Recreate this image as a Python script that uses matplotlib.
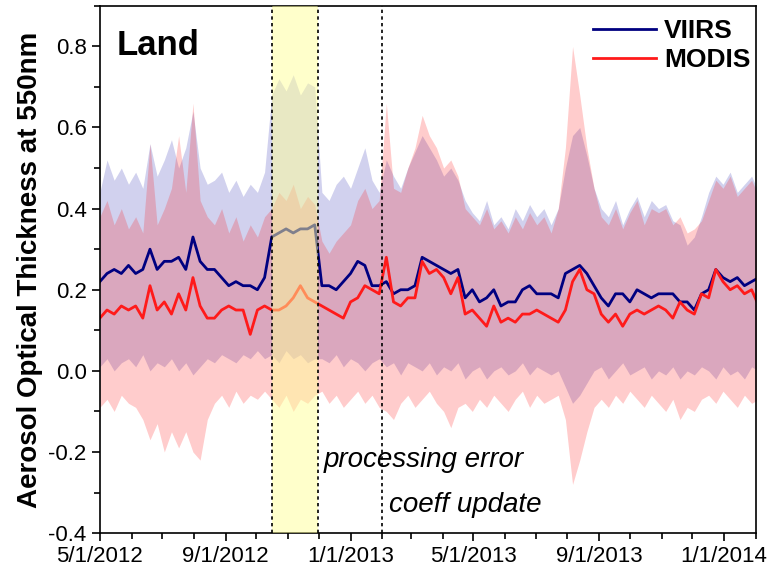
import matplotlib
matplotlib.use("Agg")
import matplotlib.pyplot as plt
import matplotlib.dates as mdates
from matplotlib.ticker import MultipleLocator, FuncFormatter
import pandas as pd

plt.rcParams['font.family'] = ['Liberation Sans', 'DejaVu Sans']

# weekly samples starting 2012-05-01
start_date = "2012-05-01"

viirs_mean = [0.22, 0.24, 0.25, 0.24, 0.26, 0.24, 0.25, 0.30, 0.25, 0.27,
              0.27, 0.28, 0.25, 0.33, 0.27, 0.25, 0.25, 0.23, 0.21, 0.22,
              0.21, 0.21, 0.20, 0.23, 0.33, 0.34, 0.35, 0.34, 0.35, 0.35,
              0.36, 0.21, 0.21, 0.20, 0.22, 0.24, 0.27, 0.26, 0.21, 0.21,
              0.22, 0.19, 0.20, 0.20, 0.21, 0.28, 0.27, 0.26, 0.25, 0.24,
              0.25, 0.18, 0.20, 0.17, 0.18, 0.20, 0.16, 0.17, 0.17, 0.20,
              0.21, 0.19, 0.19, 0.19, 0.18, 0.24, 0.25, 0.26, 0.24, 0.21,
              0.18, 0.16, 0.19, 0.19, 0.17, 0.20, 0.19, 0.18, 0.19, 0.19,
              0.19, 0.17, 0.17, 0.15, 0.19, 0.20, 0.25, 0.23, 0.22, 0.23,
              0.21, 0.22, 0.23]

modis_mean = [0.13, 0.15, 0.14, 0.16, 0.15, 0.16, 0.13, 0.21, 0.15, 0.17,
              0.14, 0.19, 0.15, 0.23, 0.16, 0.13, 0.13, 0.15, 0.16, 0.15,
              0.15, 0.09, 0.15, 0.16, 0.15, 0.15, 0.16, 0.18, 0.21, 0.18,
              0.17, 0.16, 0.15, 0.14, 0.13, 0.17, 0.18, 0.21, 0.20, 0.19,
              0.28, 0.17, 0.16, 0.18, 0.18, 0.27, 0.24, 0.25, 0.23, 0.19,
              0.23, 0.14, 0.15, 0.13, 0.11, 0.16, 0.12, 0.13, 0.12, 0.14,
              0.14, 0.15, 0.14, 0.13, 0.12, 0.15, 0.22, 0.25, 0.20, 0.19,
              0.14, 0.12, 0.14, 0.11, 0.14, 0.15, 0.14, 0.15, 0.16, 0.15,
              0.13, 0.17, 0.15, 0.14, 0.19, 0.18, 0.25, 0.22, 0.20, 0.21,
              0.19, 0.20, 0.16]

viirs_upper = [0.44, 0.52, 0.47, 0.50, 0.46, 0.49, 0.45, 0.56, 0.48, 0.52,
               0.57, 0.50, 0.55, 0.64, 0.50, 0.46, 0.47, 0.49, 0.44, 0.47,
               0.43, 0.46, 0.44, 0.49, 0.68, 0.72, 0.69, 0.73, 0.68, 0.71,
               0.70, 0.44, 0.42, 0.46, 0.48, 0.45, 0.50, 0.55, 0.47, 0.44,
               0.52, 0.48, 0.45, 0.50, 0.54, 0.58, 0.55, 0.52, 0.48, 0.50,
               0.47, 0.42, 0.39, 0.37, 0.42, 0.36, 0.38, 0.35, 0.40, 0.37,
               0.41, 0.38, 0.40, 0.36, 0.40, 0.50, 0.58, 0.60, 0.53, 0.45,
               0.40, 0.38, 0.42, 0.36, 0.40, 0.43, 0.38, 0.42, 0.40, 0.41,
               0.37, 0.36, 0.31, 0.33, 0.38, 0.44, 0.48, 0.46, 0.49, 0.44,
               0.46, 0.48, 0.44]

viirs_lower = [0.01, 0.03, 0.00, 0.02, 0.03, 0.01, 0.04, 0.00, 0.02, 0.01,
               0.03, 0.00, 0.02, -0.01, 0.01, 0.03, 0.02, 0.04, 0.03, 0.02,
               0.04, 0.03, 0.05, 0.03, 0.04, 0.02, 0.05, 0.03, 0.04, 0.02,
               0.03, 0.03, 0.02, 0.04, 0.01, 0.03, 0.02, 0.00, 0.02, 0.03,
               0.01, 0.02, -0.01, 0.02, 0.01, 0.00, 0.02, -0.01, 0.01, 0.00,
               0.02, -0.02, 0.00, 0.01, -0.02, 0.00, 0.01, -0.01, 0.00, 0.02,
               -0.01, 0.01, 0.00, -0.01, 0.00, -0.04, -0.08, -0.06, -0.03, 0.00,
               0.01, -0.02, 0.00, 0.02, -0.01, 0.00, 0.01, -0.02, 0.00, -0.01,
               0.01, -0.02, 0.00, -0.01, 0.01, 0.00, -0.02, 0.01, -0.01, 0.00,
               -0.02, 0.01, 0.00]

modis_upper = [0.38, 0.42, 0.36, 0.40, 0.35, 0.38, 0.34, 0.56, 0.36, 0.40,
               0.45, 0.58, 0.44, 0.66, 0.42, 0.38, 0.36, 0.40, 0.34, 0.38,
               0.32, 0.36, 0.33, 0.38, 0.40, 0.44, 0.42, 0.46, 0.40, 0.43,
               0.41, 0.32, 0.29, 0.32, 0.34, 0.36, 0.42, 0.45, 0.40, 0.42,
               0.66, 0.45, 0.44, 0.50, 0.55, 0.63, 0.58, 0.55, 0.50, 0.52,
               0.48, 0.40, 0.38, 0.36, 0.40, 0.35, 0.37, 0.34, 0.38, 0.35,
               0.39, 0.36, 0.38, 0.34, 0.40, 0.55, 0.80, 0.68, 0.55, 0.45,
               0.38, 0.36, 0.40, 0.35, 0.39, 0.42, 0.36, 0.40, 0.39, 0.40,
               0.36, 0.38, 0.34, 0.35, 0.37, 0.42, 0.47, 0.45, 0.48, 0.43,
               0.45, 0.47, 0.43]

modis_lower = [-0.09, -0.07, -0.10, -0.06, -0.08, -0.09, -0.12, -0.17, -0.13, -0.20,
               -0.15, -0.19, -0.15, -0.20, -0.22, -0.12, -0.08, -0.06, -0.09, -0.05,
               -0.08, -0.06, -0.07, -0.05, -0.07, -0.09, -0.06, -0.10, -0.07, -0.08,
               -0.06, -0.05, -0.08, -0.06, -0.09, -0.07, -0.05, -0.08, -0.06, -0.09,
               -0.10, -0.12, -0.08, -0.06, -0.09, -0.07, -0.05, -0.08, -0.10, -0.14,
               -0.09, -0.08, -0.10, -0.07, -0.09, -0.06, -0.08, -0.10, -0.07, -0.05,
               -0.09, -0.06, -0.08, -0.07, -0.06, -0.12, -0.28, -0.22, -0.15, -0.09,
               -0.07, -0.09, -0.06, -0.08, -0.05, -0.07, -0.09, -0.06, -0.08, -0.10,
               -0.07, -0.12, -0.09, -0.10, -0.07, -0.06, -0.08, -0.05, -0.07, -0.09,
               -0.06, -0.08, -0.07]

error_span = ("2012-10-16", "2012-11-30")
coeff_update = "2013-02-01"

dates = pd.date_range(start_date, periods=len(viirs_mean), freq="7D")

fig = plt.figure(figsize=(7.68, 5.77), dpi=100)
ax = fig.add_axes([0.130, 0.076, 0.854, 0.914])

ax.fill_between(dates, viirs_lower, viirs_upper, color=(0, 0, 0.63), alpha=0.18, lw=0)
ax.fill_between(dates, modis_lower, modis_upper, color=(1, 0, 0), alpha=0.2, lw=0)
ax.plot(dates, viirs_mean, color="#000080", lw=2, label="VIIRS")
ax.plot(dates, modis_mean, color="#ff1a1a", lw=2, label="MODIS")

e0, e1 = pd.Timestamp(error_span[0]), pd.Timestamp(error_span[1])
ax.axvspan(e0, e1, color="#ffff99", alpha=0.5, lw=0, zorder=5)
for d in (e0, e1, pd.Timestamp(coeff_update)):
    ax.axvline(d, color="black", lw=1.2, ls=(0, (2, 2)), zorder=6)

ax.set_xlim(pd.Timestamp("2012-05-01"), pd.Timestamp("2014-02-01"))
ax.set_ylim(-0.4, 0.9)

ax.xaxis.set_major_locator(mdates.MonthLocator(bymonth=[1, 5, 9]))
ax.xaxis.set_minor_locator(mdates.MonthLocator())
ax.xaxis.set_major_formatter(FuncFormatter(
    lambda v, p: "{d.month}/{d.day}/{d.year}".format(d=mdates.num2date(v))))
ax.yaxis.set_major_locator(MultipleLocator(0.2))
ax.yaxis.set_minor_locator(MultipleLocator(0.1))
ax.yaxis.set_major_formatter(FuncFormatter(lambda v, p: f"{v:.1f}"))

ax.tick_params(which="both", direction="out", width=1.2, labelsize=16, top=False, right=False)
ax.tick_params(which="major", length=6)
ax.tick_params(which="minor", length=4)
for s in ax.spines.values():
    s.set_linewidth(1.2)

ax.set_ylabel("Aerosol Optical Thickness at 550nm", fontsize=20, fontweight="bold", labelpad=4)

ax.text(0.025, 0.925, "Land", transform=ax.transAxes, fontsize=25, fontweight="bold",
        va="center", ha="left")
ax.text(pd.Timestamp("2012-12-06"), -0.22, "processing error", fontsize=20,
        style="italic", va="center", ha="left")
ax.text(pd.Timestamp("2013-02-08"), -0.33, "coeff update", fontsize=20,
        style="italic", va="center", ha="left")

leg = ax.legend(loc="upper right", bbox_to_anchor=(1.012, 1.0), frameon=False, fontsize=19,
                handlelength=2.4, handletextpad=0.3, labelspacing=0.2, borderaxespad=0.1)
for t in leg.get_texts():
    t.set_fontweight("bold")
leg.set_zorder(10)

fig.savefig("out.png", dpi=100)
